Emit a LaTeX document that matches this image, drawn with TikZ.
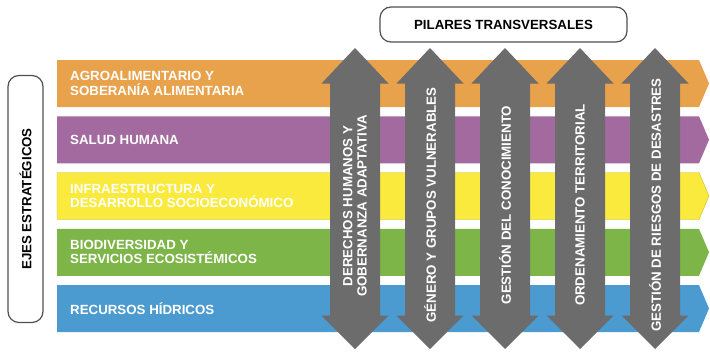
\documentclass[tikz,border=0pt]{standalone}
\usepackage{fontspec}
\setmainfont{Liberation Sans}
\usetikzlibrary{positioning}

\definecolor{naranja}{RGB}{233,162,76}
\definecolor{morado}{RGB}{162,106,158}
\definecolor{amarillo}{RGB}{250,234,62}
\definecolor{verde}{RGB}{125,181,73}
\definecolor{azul}{RGB}{75,155,209}
\definecolor{gris}{RGB}{108,108,108}
\definecolor{borde}{RGB}{80,80,80}

\begin{document}
\begin{tikzpicture}[x=1pt, y=-1pt,
    every node/.style={font=\fontsize{13.3}{14.3}\selectfont\bfseries, inner sep=0pt},
    ejetext/.style={text=white, align=left, anchor=west},
    pilar/.style={fill=gris},
    pilartext/.style={text=white, rotate=90, align=center},
    titulo/.style={draw=borde, line width=1.2pt, rounded corners=11pt,
      minimum width=247pt, minimum height=35pt, text=black}
    ]
\useasboundingbox (0,0) rectangle (710,351);
% \draw[help lines, step=50] (0,0) grid (710,351);

% ejes estrategicos (bandas)
\fill[naranja] (57,60) -- (699,60) -- (709,83.5) -- (699,107) -- (57,107) -- cycle;
\fill[morado] (57,116.25) -- (699,116.25) -- (709,139.75) -- (699,163.25) -- (57,163.25) -- cycle;
\fill[amarillo, draw=amarillo!80!black, line width=0.4pt] (57,172.5) -- (699,172.5) -- (709,196) -- (699,219.5) -- (57,219.5) -- cycle;
\fill[verde] (57,228.75) -- (699,228.75) -- (709,252.25) -- (699,275.75) -- (57,275.75) -- cycle;
\fill[azul] (57,285) -- (699,285) -- (709,308.5) -- (699,332) -- (57,332) -- cycle;

\node[ejetext] (agro)  at (70,83.5)   {AGROALIMENTARIO Y\\SOBERANÍA ALIMENTARIA};
\node[ejetext] (salud) at (70,139.75) {SALUD HUMANA};
\node[ejetext] (infra) at (70,196)    {INFRAESTRUCTURA Y\\DESARROLLO SOCIOECONÓMICO};
\node[ejetext] (bio)   at (70,252.25) {BIODIVERSIDAD Y\\SERVICIOS ECOSISTÉMICOS};
\node[ejetext] (agua)  at (70,308.5)  {RECURSOS HÍDRICOS};

% pilares transversales (flechas dobles)
\foreach \x in {355,430,505,580,655}
  \fill[pilar] (\x,48) -- (\x+33.5,83.5) -- (\x+25,83.5) -- (\x+25,315.5)
    -- (\x+33.5,315.5) -- (\x,349) -- (\x-33.5,315.5) -- (\x-25,315.5)
    -- (\x-25,83.5) -- (\x-33.5,83.5) -- cycle;

\node[pilartext] (derechos) at (355,206) {DERECHOS HUMANOS Y\\GOBERNANZA ADAPTATIVA};
\node[pilartext] (genero)   at (430,205) {GÉNERO Y GRUPOS VULNERABLES};
\node[pilartext] (gestion)  at (505,205) {GESTIÓN DEL CONOCIMIENTO};
\node[pilartext] (orden)    at (580,205) {ORDENAMIENTO TERRITORIAL};
\node[pilartext] (riesgos)  at (655,205) {GESTIÓN DE RIESGOS DE DESASTRES};

% titulos
\node[titulo] (pilares) at (503.5,24.5) {PILARES TRANSVERSALES};
\node[titulo, rotate=90] (ejes) at (25.5,199) {EJES ESTRATÉGICOS};
\end{tikzpicture}
\end{document}
